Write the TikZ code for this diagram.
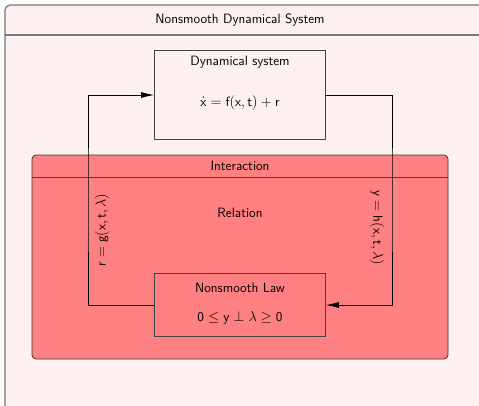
\documentclass[tikz,border=0pt]{standalone}
\usepackage{fontspec}
\usetikzlibrary{arrows.meta}
\definecolor{bgpink}{HTML}{FDF0F0}
\definecolor{salmon}{HTML}{FF8080}
\definecolor{edgegray}{HTML}{444444}
\definecolor{outergray}{HTML}{777777}
\newcommand{\sfm}[1]{\mathsf{#1}}
\begin{document}
\begin{tikzpicture}[x=1pt,y=-1pt,font=\fontsize{13.5}{16}\selectfont\sffamily,
  panel/.style={draw=edgegray,line width=0.8pt},
  blockbox/.style={draw=edgegray,line width=0.8pt,minimum width=171pt,inner sep=0pt},
  label/.style={inner sep=1pt},
  conn/.style={draw=black,line width=0.7pt},
  arr/.style={conn,-{Latex[length=13pt,width=6pt]}}]
\useasboundingbox (0,0) rectangle (479,405);
\clip (0,0) rectangle (479,405);
% outer panel
\path[panel,draw=outergray,line width=1.2pt,fill=bgpink,rounded corners=5pt] (5,5) rectangle (486,420);
\draw[panel,draw=outergray,line width=1.2pt] (5,35) -- (486,35);
\node[label] (title) at (240,20) {Nonsmooth Dynamical System};
% interaction panel
\path[panel,draw=edgegray!80!black,fill=salmon,rounded corners=4pt] (32,155) rectangle (448,359);
\draw[panel] (32,177) -- (448,177);
\node[label] (inter) at (240,166) {Interaction};
\node[label] (rel) at (240,213) {Relation};
% blocks
\node[blockbox,fill=bgpink,minimum height=89pt] (dyn) at (240,95) {};
\node[label] (dyntitle) at (240,62) {Dynamical system};
\node[label] (dyneq) at (240,103) {$\dot{\sfm{x}} = \sfm{f}(\sfm{x},\sfm{t}) + \sfm{r}$};
\node[blockbox,fill=salmon,minimum height=63pt] (law) at (240,305) {};
\node[label] (lawtitle) at (240,288) {Nonsmooth Law};
\node[label] (laweq) at (240,318) {$\sfm{0} \leq \sfm{y} \perp \lambda \geq \sfm{0}$};
% connectors
\coordinate (lcorner) at (88,200);
\coordinate (rcorner) at (392,200);
\draw[arr] (law.west) -| (lcorner) |- (dyn.west);
\draw[arr] (dyn.east) -| (rcorner) |- (law.east);
\node[label,rotate=90] (glab) at (102,230) {$\sfm{r} = \sfm{g}(\sfm{x},\sfm{t},\lambda)$};
\node[label,rotate=-90] (hlab) at (377,228) {$\sfm{y} = \sfm{h}(\sfm{x},\sfm{t},\lambda)$};
\end{tikzpicture}
\end{document}
